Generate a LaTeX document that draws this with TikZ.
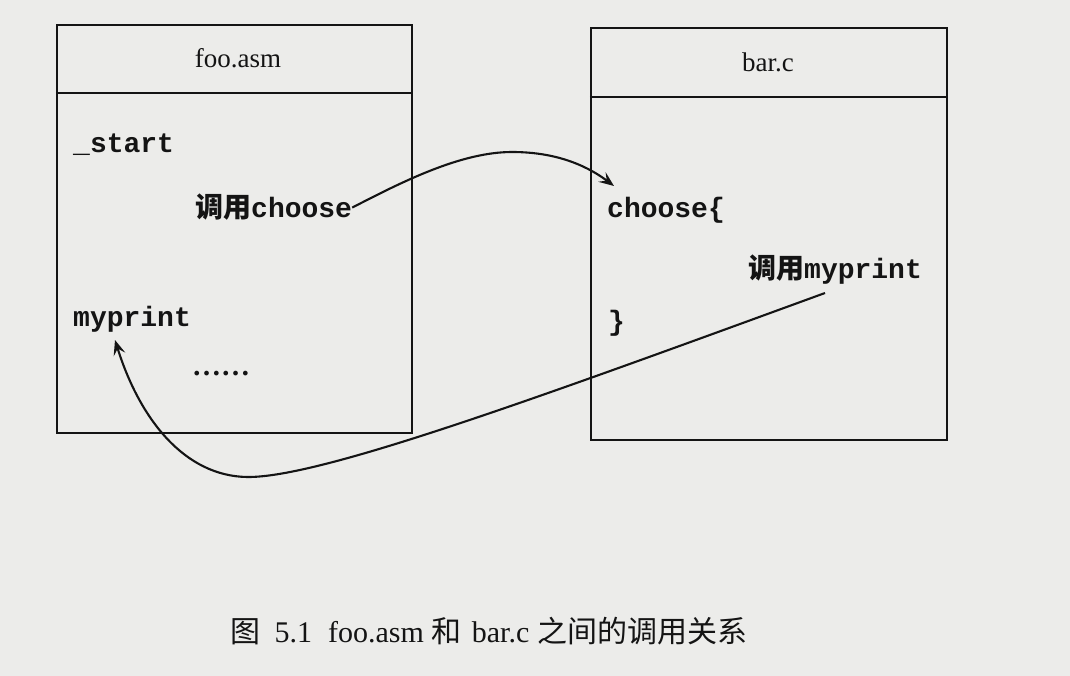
\documentclass[tikz,border=0pt]{standalone}
\usepackage{fontspec}
\setmainfont{Liberation Serif}
\newfontfamily\cjk{Noto Sans CJK SC}
\newfontfamily\mono{Liberation Mono}
\usetikzlibrary{arrows.meta,calc}
\definecolor{paper}{RGB}{236,236,234}
\definecolor{ink}{RGB}{20,20,20}
\tikzset{
  box/.style={draw=ink, line width=2.3pt, inner sep=0pt},
  divider/.style={draw=ink, line width=2.3pt},
  title/.style={inner sep=0pt, anchor=base, font=\fontsize{27}{30}\selectfont, text=ink},
  code/.style={inner sep=0pt, anchor=base west, font=\fontsize{28}{30}\selectfont\mono\bfseries, text=ink},
  link/.style={draw=ink, line width=2.1pt, -{Stealth[length=15pt,width=12pt,inset=6pt]}},
  caption/.style={inner sep=0pt, anchor=base, font=\fontsize{30}{32}\selectfont, text=ink}
}
\begin{document}
\begin{tikzpicture}[x=1pt,y=-1pt]
\path[use as bounding box, fill=paper] (0,0) rectangle (1070,676);

% boxes
\node[box, minimum width=355pt, minimum height=408pt] (foo) at (234.5,229) {};
\node[box, minimum width=356pt, minimum height=412pt] (bar) at (769,234) {};
\draw[divider] (foo.west |- 0,93) -- (foo.east |- 0,93);
\draw[divider] (bar.west |- 0,97) -- (bar.east |- 0,97);

% titles
\node[title] (footitle) at (238,68) {foo.asm};
\node[title] (bartitle) at (768,72) {bar.c};

% left box contents
\node[code] (start) at (73,153) {\_start};
\node[code] (callchoose) at (195,218) {{\cjk\bfseries 调用}choose};
\node[code] (myprint) at (73,326) {myprint};
\node[inner sep=0pt, anchor=base west, font=\fontsize{29}{30}\selectfont\bfseries, text=ink] (dots) at (192,375) {……};

% right box contents
\node[code] (choose) at (607,218) {choose\{};
\node[code] (callmyprint) at (748,278) {{\cjk\bfseries 调用}myprint};
\node[code] (close) at (608,330) {\}};

% connector endpoints
\coordinate (chooseIn) at (614,186);
\coordinate (mpStart) at (825,293);
\coordinate (mpIn) at (115,340);

% connectors
\draw[link] (callchoose.east) .. controls (400,183) and (460,152) .. (512,152)
  .. controls (560,152) and (590,168) .. (chooseIn);
\draw[link] (mpStart) .. controls (540,397) and (320,478) .. (247,477)
  .. controls (185,476) and (140,420) .. (mpIn);

% caption
\node[caption] (cap) at (489,642) {{\cjk 图}\hspace{14pt}5.1\hspace{16pt}foo.asm\hspace{8pt}{\cjk 和}\hspace{10pt}bar.c\hspace{8pt}{\cjk 之间的调用关系}};
\end{tikzpicture}
\end{document}
